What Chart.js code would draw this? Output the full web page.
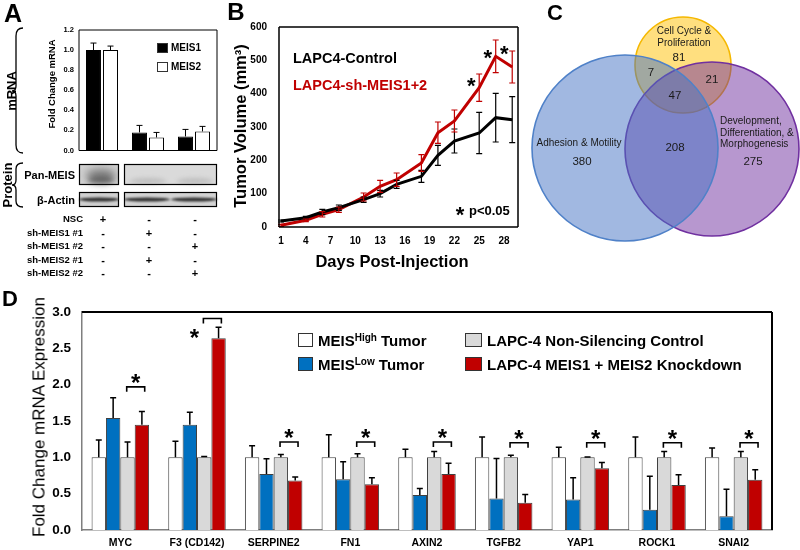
<!DOCTYPE html>
<html><head><meta charset="utf-8">
<script src="https://cdn.jsdelivr.net/npm/chart.js@4"></script>
<style>
html,body{margin:0;padding:0;background:#fff;}
body{position:relative;width:800px;height:550px;overflow:hidden;font-family:'Liberation Sans',Arial,sans-serif;}
canvas{position:absolute;}
</style></head>
<body>
<canvas id="cA" width="222" height="160" style="left:0;top:0"></canvas>
<canvas id="blot" width="222" height="52" style="left:0;top:160px"></canvas>
<canvas id="cB" width="300" height="275" style="left:225px;top:0"></canvas>
<canvas id="cC" width="275" height="250" style="left:525px;top:0"></canvas>
<canvas id="cD" width="800" height="265" style="left:0;top:285px"></canvas>
<svg width="30" height="220" style="position:absolute;left:0;top:0">
<path d="M23 28 Q16 28 16 36 L16 86 Q16 91 12 91 Q16 91 16 96 L16 145 Q16 153 23 153" fill="none" stroke="#000" stroke-width="1.3"/>
<path d="M23 163 Q16 163 16 169 L16 180 Q16 185 12 185 Q16 185 16 190 L16 201 Q16 207 23 207" fill="none" stroke="#000" stroke-width="1.3"/>
</svg>
<script>
// ---------------- DATA ----------------
// Panel A
const aGroups = ['NSC', 'sh #1', 'sh #2'];
const aMeis1 = [1.00, 0.18, 0.14];
const aMeis1Err = [0.07, 0.07, 0.07];
const aMeis2 = [1.00, 0.13, 0.19];
const aMeis2Err = [0.04, 0.05, 0.05];
const aRowLabels = ['NSC', 'sh-MEIS1 #1', 'sh-MEIS1 #2', 'sh-MEIS2 #1', 'sh-MEIS2 #2'];
const aRowSigns = [['+','-','-'], ['-','+','-'], ['-','-','+'], ['-','+','-'], ['-','-','+']];

// Panel B
const bDays = [1, 4, 6, 8, 11, 13, 15, 18, 20, 22, 25, 27, 29];
const bControl = [18, 28, 45, 58, 82, 100, 128, 152, 215, 258, 282, 328, 322];
const bControlErr = [3, 4, 8, 8, 8, 10, 12, 18, 30, 36, 62, 73, 69];
const bKnock = [5, 20, 38, 52, 90, 122, 142, 192, 283, 318, 418, 512, 480];
const bKnockErr = [3, 4, 8, 8, 12, 18, 20, 25, 32, 33, 41, 49, 48];
const bTickDays = [1, 4, 7, 10, 13, 16, 19, 22, 25, 28];
const bSigDays = [25, 27, 29];
const bSigY = [438, 522, 534];

// Panel C
const vennNames = ['Adhesion & Motility', 'Development, Differentiation, & Morphogenesis', 'Cell Cycle & Proliferation'];
const vennRegions = ['Adhesion only', 'Development only', 'Cell cycle only', 'Adhesion+Cell cycle', 'Development+Cell cycle', 'All three', 'Adhesion+Development'];
const vennCounts = [380, 275, 81, 7, 21, 47, 208];

// Panel D
const dGenes = ['MYC', 'F3 (CD142)', 'SERPINE2', 'FN1', 'AXIN2', 'TGFB2', 'YAP1', 'ROCK1', 'SNAI2'];
const dHigh = [1, 1, 1, 1, 1, 1, 1, 1, 1];
const dHighErr = [0.24, 0.22, 0.16, 0.31, 0.11, 0.28, 0.14, 0.28, 0.13];
const dLow = [1.54, 1.45, 0.77, 0.70, 0.48, 0.435, 0.42, 0.28, 0.19];
const dLowErr = [0.28, 0.17, 0.21, 0.24, 0.09, 0.55, 0.30, 0.46, 0.37];
const dNsc = [1, 1, 1, 1, 1, 1, 1, 1, 1];
const dNscErr = [0.21, 0.01, 0.04, 0.05, 0.08, 0.03, 0.005, 0.08, 0.08];
const dKd = [1.45, 2.64, 0.68, 0.63, 0.77, 0.375, 0.85, 0.62, 0.69];
const dKdErr = [0.18, 0.15, 0.05, 0.09, 0.15, 0.115, 0.08, 0.14, 0.14];
const dSigY = [1.97, 2.91, 1.21, 1.21, 1.21, 1.20, 1.20, 1.20, 1.20];

// ---------------- HELPERS ----------------
const FONT = "'Liberation Sans', Arial, sans-serif";
Chart.defaults.font.family = FONT;
Chart.defaults.color = '#000';

function addText(html, x, y, o = {}) {
  const d = document.createElement('div');
  d.innerHTML = html;
  d.style.cssText = `position:absolute;left:${x}px;top:${y}px;white-space:nowrap;line-height:1;font-family:${FONT};font-size:${o.size || 12}px;font-weight:${o.bold ? 'bold' : 'normal'};color:${o.color || '#000'};`;
  const tx = o.align === 'left' ? '0' : o.align === 'right' ? '-100%' : '-50%';
  d.style.transform = o.rotate ? 'translate(-50%,-50%) rotate(-90deg)' : `translate(${tx},-50%)`;
  document.body.appendChild(d);
  return d;
}
function addStar(x, y, size) {
  const d = document.createElement('div');
  d.textContent = '*';
  d.style.cssText = `position:absolute;left:${x}px;top:${y - 0.28 * size}px;line-height:1;font-family:${FONT};font-size:${size}px;font-weight:bold;color:#000;transform:translate(-50%,0);`;
  document.body.appendChild(d);
}
function addSwatch(x, y, w, h, fill) {
  const d = document.createElement('div');
  d.style.cssText = `position:absolute;left:${x}px;top:${y}px;width:${w}px;height:${h}px;background:${fill};border:1.5px solid #333;box-sizing:border-box;`;
  document.body.appendChild(d);
}

const errorBarPlugin = {
  id: 'errbars',
  afterDatasetsDraw(chart) {
    const ctx = chart.ctx, ys = chart.scales.y;
    chart.data.datasets.forEach((ds, di) => {
      if (!ds.errPlus) return;
      const meta = chart.getDatasetMeta(di);
      meta.data.forEach((el, i) => {
        const raw = ds.data[i];
        const v = typeof raw === 'object' ? raw.y : raw;
        const top = ys.getPixelForValue(v + ds.errPlus[i]);
        const bot = ds.errMinus ? ys.getPixelForValue(v - ds.errMinus[i]) : ys.getPixelForValue(v);
        const cap = ds.errCap || 3;
        ctx.save();
        ctx.strokeStyle = ds.errColor || '#000';
        ctx.lineWidth = ds.errWidth || 1.2;
        ctx.beginPath();
        ctx.moveTo(el.x, top); ctx.lineTo(el.x, bot);
        ctx.moveTo(el.x - cap, top); ctx.lineTo(el.x + cap, top);
        if (ds.errMinus) { ctx.moveTo(el.x - cap, bot); ctx.lineTo(el.x + cap, bot); }
        ctx.stroke();
        ctx.restore();
      });
    });
  }
};
const boxPlugin = {
  id: 'box',
  afterDraw(chart, args, opts) {
    if (!opts || !opts.sides) return;
    const {left, right, top, bottom} = chart.chartArea, ctx = chart.ctx;
    ctx.save();
    ctx.strokeStyle = opts.color || '#000';
    ctx.lineWidth = opts.width || 1;
    ctx.beginPath();
    if (opts.sides.includes('t')) { ctx.moveTo(left, top); ctx.lineTo(right, top); }
    if (opts.sides.includes('r')) { ctx.moveTo(right, top); ctx.lineTo(right, bottom); }
    if (opts.sides.includes('b')) { ctx.moveTo(left, bottom); ctx.lineTo(right, bottom); }
    if (opts.sides.includes('l')) { ctx.moveTo(left, top); ctx.lineTo(left, bottom); }
    ctx.stroke();
    ctx.restore();
  }
};
const common = {responsive: false, animation: false, devicePixelRatio: 1, events: []};

// ---------------- PANEL A ----------------
const chartA = new Chart(document.getElementById('cA'), {
  type: 'bar',
  data: {
    labels: aGroups,
    datasets: [
      {label: 'MEIS1', data: aMeis1, backgroundColor: '#000', borderColor: '#000', borderWidth: 1, errPlus: aMeis1Err, errCap: 3, errWidth: 1},
      {label: 'MEIS2', data: aMeis2, backgroundColor: '#fff', borderColor: '#000', borderWidth: 1, errPlus: aMeis2Err, errCap: 3, errWidth: 1}
    ]
  },
  options: Object.assign({}, common, {
    layout: {padding: {top: 30, right: 5, left: 0, bottom: 0}},
    categoryPercentage: 0.74, barPercentage: 0.88,
    plugins: {legend: {display: false}, tooltip: {enabled: false}, box: {sides: 'trbl', color: '#000', width: 1}},
    scales: {
      x: {grid: {display: false, drawTicks: false}, border: {display: false}, ticks: {display: false}, afterFit: s => { s.height = 7; }},
      y: {min: 0, max: 1.2, grid: {display: false, drawTicks: false}, border: {display: false},
          ticks: {stepSize: 0.2, padding: 5, font: {size: 7.5, weight: 'bold'}, callback: v => v.toFixed(1)},
          afterFit: s => { s.width = 79; }}
    }
  }),
  plugins: [errorBarPlugin, boxPlugin]
});

// Blots
(function () {
  const ctx = document.getElementById('blot').getContext('2d');
  const oy = 160;
  function bg(x0, y0, x1, y1, c) { ctx.fillStyle = c; ctx.fillRect(x0, y0 - oy, x1 - x0, y1 - y0); }
  function smear(cx, cy, rx, ry, c, blur) {
    ctx.save(); ctx.filter = `blur(${blur}px)`; ctx.fillStyle = c;
    ctx.beginPath(); ctx.ellipse(cx, cy - oy, rx, ry, 0, 0, Math.PI * 2); ctx.fill(); ctx.restore();
  }
  function frame(x0, y0, x1, y1) { ctx.strokeStyle = '#000'; ctx.lineWidth = 1.2; ctx.strokeRect(x0 + 0.5, y0 - oy + 0.5, x1 - x0 - 1, y1 - y0 - 1); }
  // Pan-MEIS
  bg(79, 164, 119, 185, '#d2d2d2');
  smear(101, 176, 15, 7, 'rgba(70,70,70,0.65)', 4);
  smear(101, 180, 13, 3, 'rgba(60,60,60,0.5)', 2);
  bg(124, 164, 217, 185, '#dadada');
  smear(148, 181, 18, 3, 'rgba(140,140,140,0.35)', 2);
  smear(195, 181, 18, 3, 'rgba(140,140,140,0.35)', 2);
  ctx.clearRect(119, 0, 5, 52);
  frame(79, 164, 119, 185); frame(124, 164, 217, 185);
  // beta-actin
  bg(79, 192, 119, 207, '#cfcfcf');
  smear(99, 199.5, 20, 2, 'rgba(40,40,40,0.95)', 1.2);
  bg(124, 192, 217, 207, '#d3d3d3');
  smear(147, 199.5, 23, 2, 'rgba(40,40,40,0.95)', 1.2);
  smear(194, 199.5, 23, 2, 'rgba(40,40,40,0.95)', 1.2);
  ctx.clearRect(119, 30, 5, 22);
  frame(79, 192, 119, 207); frame(124, 192, 217, 207);
})();

addText('A', 13, 13, {size: 25, bold: true});
addText('mRNA', 11, 91, {size: 13, bold: true, rotate: true});
addText('Protein', 7, 185, {size: 13, bold: true, rotate: true});
addText('Fold Change mRNA', 52, 84, {size: 9.5, bold: true, rotate: true});
addSwatch(157, 43, 11, 10, '#000');
addText('MEIS1', 171, 48, {size: 10, bold: true, align: 'left'});
addSwatch(157, 62, 11, 10, '#fff');
addText('MEIS2', 171, 67, {size: 10, bold: true, align: 'left'});
addText('Pan-MEIS', 75, 175, {size: 11, bold: true, align: 'right'});
addText('β-Actin', 75, 200, {size: 11, bold: true, align: 'right'});
const aColX = [103, 149, 195];
const aRowY = [219, 232.5, 246, 259.5, 273];
aRowLabels.forEach((lab, r) => {
  addText(lab, 83, aRowY[r], {size: 9.5, bold: true, align: 'right'});
  aRowSigns[r].forEach((s, c) => addText(s, aColX[c], aRowY[r], {size: 11, bold: true}));
});

// ---------------- PANEL B ----------------
const RED = '#c00000';
const chartB = new Chart(document.getElementById('cB'), {
  type: 'line',
  data: {
    datasets: [
      {label: 'LAPC4-Control', data: bDays.map((d, i) => ({x: d, y: bControl[i]})), borderColor: '#000', borderWidth: 3, pointRadius: 0, tension: 0,
       errPlus: bControlErr, errMinus: bControlErr, errColor: '#000', errCap: 3, errWidth: 1.2},
      {label: 'LAPC4-sh-MEIS1+2', data: bDays.map((d, i) => ({x: d, y: bKnock[i]})), borderColor: RED, borderWidth: 3, pointRadius: 0, tension: 0,
       errPlus: bKnockErr, errMinus: bKnockErr, errColor: RED, errCap: 3, errWidth: 1.2}
    ]
  },
  options: Object.assign({}, common, {
    layout: {padding: {top: 27, right: 7, left: 0, bottom: 0}},
    plugins: {legend: {display: false}, tooltip: {enabled: false}, box: {sides: 'trbl', color: '#000', width: 1.5}},
    scales: {
      x: {type: 'linear', min: 0.75, max: 29.7, grid: {display: false, drawTicks: false}, border: {display: false},
          afterBuildTicks: s => { s.ticks = bTickDays.map(v => ({value: v})); },
          ticks: {padding: 8, font: {size: 10, weight: 'bold'}, maxRotation: 0, autoSkip: false},
          afterFit: s => { s.height = 48; }},
      y: {min: 0, max: 600, grid: {display: false, drawTicks: false}, border: {display: false},
          ticks: {stepSize: 100, padding: 12, font: {size: 10, weight: 'bold'}},
          afterFit: s => { s.width = 54; }}
    }
  }),
  plugins: [errorBarPlugin, boxPlugin]
});
addText('B', 236, 12, {size: 24, bold: true});
addText('Tumor Volume (mm³)', 240, 126, {size: 16.5, bold: true, rotate: true});
addText('Days Post-Injection', 392, 261, {size: 16.5, bold: true});
addText('LAPC4-Control', 293, 58, {size: 14.5, bold: true, align: 'left'});
addText('LAPC4-sh-MEIS1+2', 293, 85, {size: 14.5, bold: true, align: 'left', color: RED});
addStar(460, 210, 22);
addText('p&lt;0.05', 469, 210, {size: 13, bold: true, align: 'left'});
bSigDays.forEach((d, i) => {
  const x = 225 + chartB.scales.x.getPixelForValue(d) - 8;
  const y = chartB.scales.y.getPixelForValue(bSigY[i]);
  addStar(x, y, 22);
});

// ---------------- PANEL C ----------------
const vennLayout = [{x: 625, y: 148, r: 93}, {x: 712, y: 149, r: 87}, {x: 683, y: 65, r: 48}];
const vennFill = ['rgba(68,114,196,0.5)', 'rgba(112,48,160,0.5)', 'rgba(255,192,0,0.5)'];
const vennStroke = ['#4f81c8', '#7030a0', '#f5b800'];
new Chart(document.getElementById('cC'), {
  type: 'bubble',
  data: {
    datasets: vennNames.map((n, i) => ({
      label: n, data: [vennLayout[i]], backgroundColor: vennFill[i], borderColor: vennStroke[i], borderWidth: 1.6, clip: false
    }))
  },
  options: Object.assign({}, common, {
    layout: {padding: 0, autoPadding: false},
    plugins: {legend: {display: false}, tooltip: {enabled: false}},
    scales: {
      x: {type: 'linear', min: 525, max: 800, display: false},
      y: {type: 'linear', min: 0, max: 250, reverse: true, display: false}
    }
  })
});
addText('C', 555, 13, {size: 22, bold: true});
const vc = {size: 10, color: '#1a1a1a'};
addText('Cell Cycle &amp;', 684, 31, vc);
addText('Proliferation', 684, 43, vc);
addText('Adhesion &amp; Motility', 579, 143, vc);
addText('Development,', 720, 121, Object.assign({align: 'left'}, vc));
addText('Differentiation, &amp;', 720, 132.5, Object.assign({align: 'left'}, vc));
addText('Morphogenesis', 720, 144, Object.assign({align: 'left'}, vc));
const vennLabelPos = [[582, 162], [753, 162], [679, 58], [651, 73], [712, 80], [675, 96], [675, 148]];
vennCounts.forEach((c, i) => addText(String(c), vennLabelPos[i][0], vennLabelPos[i][1], {size: 11.5, color: '#1a1a1a'}));

// ---------------- PANEL D ----------------
const bracketPlugin = {
  id: 'brackets',
  afterDatasetsDraw(chart) {
    const ctx = chart.ctx, ys = chart.scales.y;
    const g = chart.getDatasetMeta(2).data, r = chart.getDatasetMeta(3).data;
    ctx.save(); ctx.strokeStyle = '#000'; ctx.lineWidth = 1.6;
    dSigY.forEach((v, i) => {
      const cx = (g[i].x + r[i].x) / 2 + 1, y = ys.getPixelForValue(v);
      ctx.beginPath();
      ctx.moveTo(cx - 9, y + 5); ctx.lineTo(cx - 9, y); ctx.lineTo(cx + 9, y); ctx.lineTo(cx + 9, y + 5);
      ctx.stroke();
    });
    ctx.restore();
  }
};
const chartD = new Chart(document.getElementById('cD'), {
  type: 'bar',
  data: {
    labels: dGenes,
    datasets: [
      {label: 'MEIS High Tumor', data: dHigh, backgroundColor: '#fff', borderColor: '#404040', borderWidth: 1, errPlus: dHighErr},
      {label: 'MEIS Low Tumor', data: dLow, backgroundColor: '#0070c0', borderColor: '#404040', borderWidth: 1, errPlus: dLowErr},
      {label: 'LAPC-4 Non-Silencing Control', data: dNsc, backgroundColor: '#d9d9d9', borderColor: '#404040', borderWidth: 1, errPlus: dNscErr},
      {label: 'LAPC-4 MEIS1 + MEIS2 Knockdown', data: dKd, backgroundColor: '#c00000', borderColor: '#404040', borderWidth: 1, errPlus: dKdErr}
    ].map(d => Object.assign(d, {errCap: 3, errWidth: 1.5}))
  },
  options: Object.assign({}, common, {
    layout: {padding: {top: 27, right: 28, left: 0, bottom: 0}},
    categoryPercentage: 0.75, barPercentage: 1.0,
    plugins: {legend: {display: false}, tooltip: {enabled: false}, box: {sides: 'tr', color: '#000', width: 2}},
    scales: {
      x: {grid: {display: false, drawTicks: false}, border: {display: true, color: '#7f7f7f', width: 1.5},
          ticks: {padding: 7, font: {size: 10.5, weight: 'bold'}, maxRotation: 0, autoSkip: false},
          afterFit: s => { s.height = 20; }},
      y: {min: 0, max: 3, grid: {display: false, drawTicks: false}, border: {display: true, color: '#7f7f7f', width: 1.5},
          ticks: {stepSize: 0.5, padding: 11, font: {size: 13.5, weight: 'bold'}, callback: v => v.toFixed(1)},
          afterFit: s => { s.width = 82; }}
    }
  }),
  plugins: [errorBarPlugin, bracketPlugin, boxPlugin]
});
addText('D', 10, 299, {size: 22, bold: true});
addText('Fold Change mRNA Expression', 39, 417, {size: 17, rotate: true});
addSwatch(298, 333, 15, 14, '#fff');
addText('MEIS<span style="font-size:10px;position:relative;top:-5px">High</span> Tumor', 318, 340, {size: 15, bold: true, align: 'left'});
addSwatch(298, 357, 15, 14, '#0070c0');
addText('MEIS<span style="font-size:10px;position:relative;top:-5px">Low</span> Tumor', 318, 364, {size: 15, bold: true, align: 'left'});
addSwatch(465, 333, 17, 14, '#d9d9d9');
addText('LAPC-4 Non-Silencing Control', 487, 340, {size: 15, bold: true, align: 'left'});
addSwatch(465, 357, 17, 14, '#c00000');
addText('LAPC-4 MEIS1 + MEIS2 Knockdown', 487, 364, {size: 15, bold: true, align: 'left'});
(function () {
  const g = chartD.getDatasetMeta(2).data, r = chartD.getDatasetMeta(3).data, ys = chartD.scales.y;
  dSigY.forEach((v, i) => {
    const cx = (g[i].x + r[i].x) / 2 + 1, y = ys.getPixelForValue(v) + 285;
    if (i === 1) addStar(cx - 18, y + 14, 24);
    else addStar(cx, y - 9, 24);
  });
})();
</script>
</body></html>
